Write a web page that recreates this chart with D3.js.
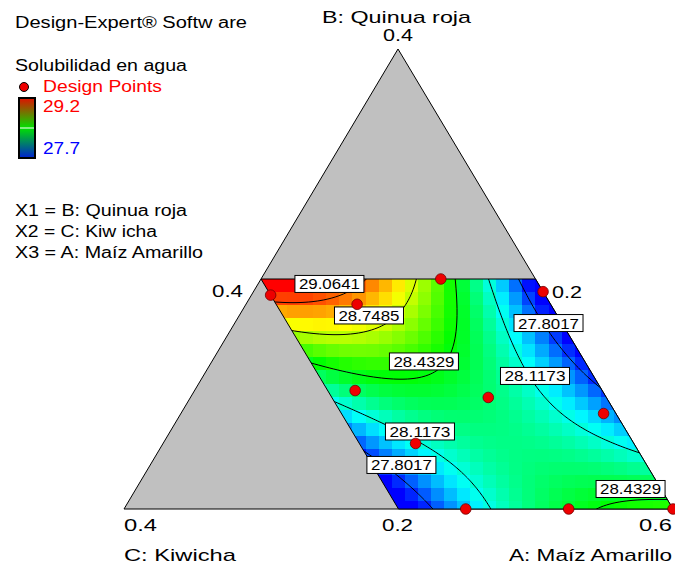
<!DOCTYPE html>
<html>
<head>
<meta charset="utf-8">
<script src="https://cdn.jsdelivr.net/npm/d3@7"></script>
<style>
  body { margin: 0; background: #fff; }
  svg { display: block; }
  text { font-family: Arial, "Liberation Sans", sans-serif; }
</style>
</head>
<body>
<svg id="chart" width="675" height="567"></svg>
<script>
// ---- Mixture: A + B + C = 0.6 (real proportions) ----
const lowerA = 0.2, lowerB = 0.0, lowerC = 0.0;
const mixRange = 0.4;

// Design points (real proportions)
const designA = [0.214, 0.331, 0.411, 0.281, 0.317, 0.417, 0.508, 0.384, 0.449, 0.524, 0.600];
const designB = [0.186, 0.200, 0.189, 0.178, 0.103, 0.097, 0.083, 0.057, 0.000, 0.000, 0.000];
const designC = [0.200, 0.069, 0.000, 0.141, 0.180, 0.086, 0.009, 0.159, 0.151, 0.076, 0.000];

// Contour levels of the response "Solubilidad en agua"
const contourLevels = [27.8017, 28.1173, 28.4329, 28.7485, 29.0641];
const colorLow = 27.7, colorHigh = 29.2;

// Axis tick labels
const tickTop = 0.4, tickLeft = 0.4, tickRight = 0.2;
const tickBottom = [0.4, 0.2, 0.6];

// Response readings (B, C, response) used to fit the cubic mixture surface
const responseB = [
  0.1774, 0.1800, 0.1817, 0.1835, 0.1878, 0.1957, 0.1991,
  0.1513, 0.1539, 0.1565, 0.1591, 0.1661, 0.1774, 0.1887, 0.1991,
  0.1226, 0.1191, 0.1165, 0.1148, 0.1157, 0.1226, 0.1339, 0.1470, 0.1643, 0.1817, 0.1991,
  0.1991, 0.1817, 0.1661, 0.1470, 0.1296, 0.1078, 0.0861, 0.0713, 0.0583, 0.0470,
  0.1991, 0.1861, 0.1730, 0.1522, 0.1278, 0.1017,
  0.0904, 0.0835, 0.0757, 0.0583, 0.0443, 0.0278, 0.0104, 0.0000,
  0.0513, 0.0296, 0.0165, 0.0000,
  0.0000, 0.0061, 0.0087, 0.0096, 0.0087, 0.0061,
  0.2000, 0.0000, 0.2000, 0.0000, 0.0970, 0.1000, 0.0500, 0.0000
];
const responseC = [
  0.2000, 0.1780, 0.1553, 0.1384, 0.1252, 0.1140, 0.1101,
  0.2000, 0.1801, 0.1569, 0.1396, 0.1230, 0.1100, 0.1015, 0.0948,
  0.2000, 0.1830, 0.1624, 0.1414, 0.1228, 0.1083, 0.0983, 0.0903, 0.0809, 0.0715, 0.0627,
  0.0358, 0.0394, 0.0428, 0.0452, 0.0466, 0.0451, 0.0392, 0.0299, 0.0167, 0.0005,
  0.0132, 0.0139, 0.0153, 0.0098, 0.0037, 0.0008,
  0.1995, 0.1811, 0.1705, 0.1551, 0.1454, 0.1362, 0.1317, 0.1311,
  0.2000, 0.1841, 0.1760, 0.1698,
  0.0641, 0.0501, 0.0379, 0.0243, 0.0124, 0.0000,
  0.2000, 0.2000, 0.0000, 0.0000, 0.0860, 0.1500, 0.0800, 0.1000
];
const responseY = [
  29.0641, 29.0641, 29.0641, 29.0641, 29.0641, 29.0641, 29.0641,
  28.7485, 28.7485, 28.7485, 28.7485, 28.7485, 28.7485, 28.7485, 28.7485,
  28.4329, 28.4329, 28.4329, 28.4329, 28.4329, 28.4329, 28.4329, 28.4329, 28.4329, 28.4329, 28.4329,
  28.1173, 28.1173, 28.1173, 28.1173, 28.1173, 28.1173, 28.1173, 28.1173, 28.1173, 28.1173,
  27.8017, 27.8017, 27.8017, 27.8017, 27.8017, 27.8017,
  28.1173, 28.1173, 28.1173, 28.1173, 28.1173, 28.1173, 28.1173, 28.1173,
  27.8017, 27.8017, 27.8017, 27.8017,
  28.4329, 28.4329, 28.4329, 28.4329, 28.4329, 28.4329,
  29.22, 27.62, 27.66, 28.47, 28.30, 28.33, 28.31, 28.30
];

// Contour label anchors (B, C) and their levels
const labelLevel = [29.0641, 28.7485, 28.4329, 27.8017, 28.1173, 28.1173, 27.8017, 28.4329];
const labelB = [0.1957, 0.1683, 0.1283, 0.1617, 0.1157, 0.0674, 0.0383, 0.0174];
const labelC = [0.1523, 0.1372, 0.1172, 0.0097, 0.0426, 0.1506, 0.1787, 0.0222];

// ---- Layout ----
const svg = d3.select("#chart");
const apex = [398, 49], leftV = [124, 509], rightV = [673, 509];
const fmt1 = d3.format(".1f");

// pseudo-component scales
const bPseudo = d3.scaleLinear().domain([lowerB, lowerB + mixRange]).range([0, 1]);
const cPseudo = d3.scaleLinear().domain([lowerC, lowerC + mixRange]).range([0, 1]);

function project(B, C) {
  const b = bPseudo(B), c = cPseudo(C);
  return [
    rightV[0] + b * (apex[0] - rightV[0]) + c * (leftV[0] - rightV[0]),
    rightV[1] + b * (apex[1] - rightV[1]) + c * (leftV[1] - rightV[1])
  ];
}
function unproject(x, y) {
  const b = (y - rightV[1]) / (apex[1] - rightV[1]);
  const c = (x - rightV[0] - b * (apex[0] - rightV[0])) / (leftV[0] - rightV[0]);
  return [bPseudo.invert(b), cPseudo.invert(c)];
}

// ---- Cubic surface fit (least squares) ----
function basis(B, C) {
  const u = B / 0.2, v = C / 0.2;
  return [1, u, v, u * u, u * v, v * v, u * u * u, u * u * v, u * v * v, v * v * v];
}
const nb = 10;
const M = Array.from({ length: nb }, () => new Array(nb).fill(0));
const rhs = new Array(nb).fill(0);
responseY.forEach((yv, i) => {
  const f = basis(responseB[i], responseC[i]);
  for (let j = 0; j < nb; j++) {
    rhs[j] += f[j] * yv;
    for (let k = 0; k < nb; k++) M[j][k] += f[j] * f[k];
  }
});
for (let j = 0; j < nb; j++) M[j][j] += 1e-7;
function solve(A, y) {
  const n = y.length, a = A.map((r, i) => r.concat([y[i]]));
  for (let i = 0; i < n; i++) {
    let p = i;
    for (let r = i + 1; r < n; r++) if (Math.abs(a[r][i]) > Math.abs(a[p][i])) p = r;
    [a[i], a[p]] = [a[p], a[i]];
    for (let r = i + 1; r < n; r++) {
      const f = a[r][i] / a[i][i];
      for (let k = i; k <= n; k++) a[r][k] -= f * a[i][k];
    }
  }
  const x = new Array(n).fill(0);
  for (let i = n - 1; i >= 0; i--) {
    let s = a[i][n];
    for (let k = i + 1; k < n; k++) s -= a[i][k] * x[k];
    x[i] = s / a[i][i];
  }
  return x;
}
const coef = solve(M, rhs);
const model = (B, C) => d3.sum(basis(B, C), (f, i) => f * coef[i]);

// ---- Colour scale ----
const color = d3.scaleLinear()
  .domain([colorLow, (3 * colorLow + colorHigh) / 4, (colorLow + colorHigh) / 2, (colorLow + 3 * colorHigh) / 4, colorHigh])
  .range(["#0000ff", "#00ffff", "#00ff00", "#ffff00", "#ff0000"])
  .clamp(true);

// ---- Gray simplex ----
svg.append("path")
  .attr("d", "M" + [apex, leftV, rightV].map(p => p.join(",")).join("L") + "Z")
  .attr("fill", "#c0c0c0").attr("stroke", "#000").attr("stroke-width", 1);

// Feasible region: B <= 0.2, C <= 0.2
const region = [project(0, 0), project(0, 0.2), project(0.2, 0.2), project(0.2, 0)];
svg.append("clipPath").attr("id", "regionClip")
  .append("path").attr("d", "M" + region.map(p => p.join(",")).join("L") + "Z");

// ---- Pixel cells ----
const cellG = svg.append("g").attr("clip-path", "url(#regionClip)");
const cell = 13.07;
const rx0 = region[2][0], ry0 = region[2][1];
for (let y = ry0; y < rightV[1] + 1; y += cell) {
  for (let x = rx0; x < rightV[0] + 1; x += cell) {
    const [B, C] = unproject(x + cell / 2, y + cell / 2);
    cellG.append("rect")
      .attr("x", x).attr("y", y).attr("width", cell + 0.6).attr("height", cell + 0.6)
      .attr("fill", color(model(B, C)))
      .attr("shape-rendering", "crispEdges");
  }
}

// ---- Contour lines ----
const gx0 = 240, gy0 = 268, gw = 445, gh = 250;
const field = new Array(gw * gh);
for (let j = 0; j < gh; j++) for (let i = 0; i < gw; i++) {
  const [B, C] = unproject(gx0 + i, gy0 + j);
  field[i + j * gw] = model(B, C);
}
const contours = d3.contours().size([gw, gh]).thresholds(contourLevels)(field);
const toPx = d3.geoTransform({ point: function (x, y) { this.stream.point(gx0 + x - 0.5, gy0 + y - 0.5); } });
svg.append("g").attr("clip-path", "url(#regionClip)")
  .selectAll("path").data(contours).join("path")
  .attr("d", d3.geoPath(toPx))
  .attr("fill", "none").attr("stroke", "#000").attr("stroke-width", 1);

// Region outline
svg.append("path")
  .attr("d", "M" + region.map(p => p.join(",")).join("L") + "Z")
  .attr("fill", "none").attr("stroke", "#000").attr("stroke-width", 1);

// ---- Contour labels ----
const lab = svg.append("g");
labelLevel.forEach((lv, i) => {
  const [x, y] = project(labelB[i], labelC[i]);
  lab.append("rect").attr("x", x - 34.5).attr("y", y - 8.5).attr("width", 69).attr("height", 17)
    .attr("fill", "#fff").attr("stroke", "#000").attr("stroke-width", 1);
  lab.append("text").attr("x", x).attr("y", y + 5.5).attr("text-anchor", "middle")
    .attr("font-size", 15).attr("textLength", 61).attr("lengthAdjust", "spacingAndGlyphs")
    .text(d3.format(".4f")(lv));
});

// ---- Design points ----
svg.append("g").selectAll("circle").data(designA.map((a, i) => [designB[i], designC[i]]))
  .join("circle")
  .attr("cx", d => project(d[0], d[1])[0])
  .attr("cy", d => project(d[0], d[1])[1])
  .attr("r", 5.3)
  .attr("fill", "#ee0000").attr("stroke", "#700000").attr("stroke-width", 0.8);

// ---- Text ----
function label(x, y, s, opts = {}) {
  const t = svg.append("text").attr("x", x).attr("y", y).text(s)
    .attr("font-size", opts.size || 16)
    .attr("fill", opts.fill || "#000");
  if (opts.len) t.attr("textLength", opts.len).attr("lengthAdjust", "spacingAndGlyphs");
  return t;
}
label(15, 28, "Design-Expert® Softw are", { len: 232 });
label(15, 71, "Solubilidad en agua", { len: 172 });
label(43, 92, "Design Points", { fill: "#ff0000", len: 119 });
label(43, 112, fmt1(colorHigh), { fill: "#ff0000", len: 37 });
label(43, 154, fmt1(colorLow), { fill: "#0000ff", len: 37 });
label(15, 216, "X1 = B: Quinua roja", { len: 172 });
label(15, 237, "X2 = C: Kiw icha", { len: 142 });
label(15, 258, "X3 = A: Maíz Amarillo", { len: 188 });

label(322, 23, "B: Quinua roja", { len: 149, size: 17 });
label(383, 41, fmt1(tickTop), { len: 30, size: 17 });
label(212, 297, fmt1(tickLeft), { len: 31, size: 17 });
label(552, 298, fmt1(tickRight), { len: 30, size: 17 });
label(124, 531, fmt1(tickBottom[0]), { len: 33, size: 17 });
label(382, 531, fmt1(tickBottom[1]), { len: 31, size: 17 });
label(639, 531, fmt1(tickBottom[2]), { len: 33, size: 17 });
label(124, 561, "C: Kiwicha", { len: 112, size: 17 });
label(509, 561, "A: Maíz Amarillo", { len: 163, size: 17 });

// ---- Legend ----
svg.append("circle").attr("cx", 24).attr("cy", 87).attr("r", 4.5)
  .attr("fill", "#ee0000").attr("stroke", "#000").attr("stroke-width", 1);
const grad = svg.append("defs").append("linearGradient").attr("id", "legendGrad")
  .attr("x1", 0).attr("y1", 0).attr("x2", 0).attr("y2", 1);
grad.append("stop").attr("offset", "0%").attr("stop-color", "#e01000");
grad.append("stop").attr("offset", "50%").attr("stop-color", "#00e000");
grad.append("stop").attr("offset", "100%").attr("stop-color", "#0020d0");
svg.append("rect").attr("x", 19).attr("y", 98).attr("width", 16).attr("height", 60)
  .attr("fill", "url(#legendGrad)").attr("stroke", "#000").attr("stroke-width", 2);
svg.append("line").attr("x1", 20).attr("x2", 34).attr("y1", 128).attr("y2", 128)
  .attr("stroke", "#fff").attr("stroke-width", 1);
</script>
</body>
</html>
